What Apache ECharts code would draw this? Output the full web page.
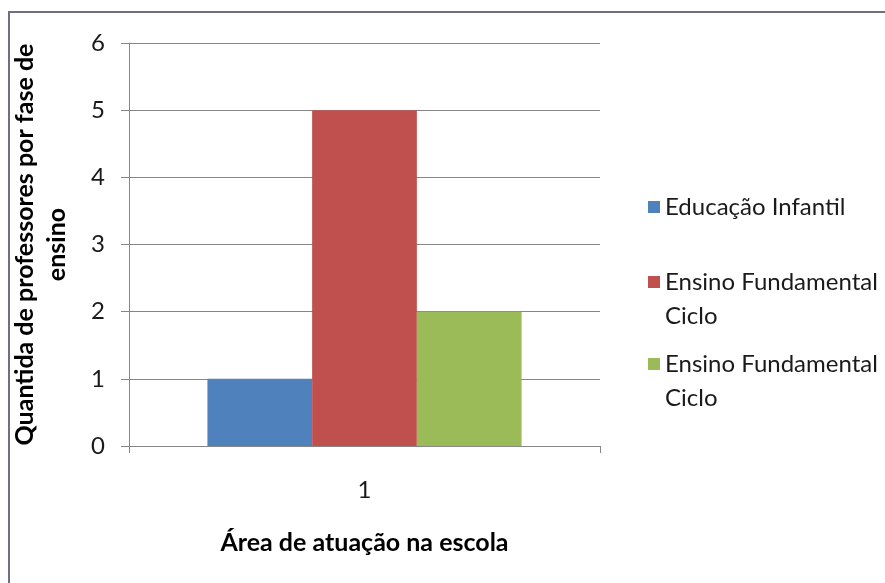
<!DOCTYPE html>
<html>
<head>
<meta charset="utf-8">
<script src="https://cdn.jsdelivr.net/npm/echarts@6/dist/echarts.min.js"></script>
<style>
  html, body { margin: 0; padding: 0; background: #fff; }
  #chart { width: 885px; height: 583px; }
</style>
</head>
<body>
<div id="chart"></div>
<script>
const categories = ["1"];
const seriesNames = [
  "Educação Infantil",
  "Ensino Fundamental I Ciclo",
  "Ensino Fundamental II Ciclo",
];
const educacaoInfantil = [1];
const fundamentalI = [5];
const fundamentalII = [2];
const yTicks = [0, 6, 1]; // min, max, interval

const colors = ["#4f81bd", "#c0504d", "#9bbb59"];
const font = "Lato, 'Open Sans', sans-serif";

const chart = echarts.init(document.getElementById("chart"));

// one legend block per item; a leading empty line keeps the icon on the first text line
const legendTops = [190, 231, 313];
const legends = seriesNames.map((name, i) => ({
  orient: "vertical",
  left: 648,
  top: legendTops[i],
  padding: 0,
  itemWidth: 12,
  itemHeight: 12,
  icon: "rect",
  data: [name],
  selectedMode: false,
  formatter: (n) => (n.indexOf(" Ciclo") > 0 ? "\n" + n.replace(" Ciclo", "\nCiclo") : n),
  textStyle: {
    fontFamily: font,
    fontSize: 24,
    color: "#1a1a1a",
    lineHeight: 34,
  },
}));

chart.setOption({
  animation: false,
  color: colors,
  graphic: [
    {
      type: "rect",
      shape: { x: 9, y: 12, width: 900, height: 600 },
      style: { fill: "none", stroke: "#6f6f80", lineWidth: 2 },
    },
  ],
  legend: legends,
  grid: { left: 129, right: 285, top: 43, bottom: 137, containLabel: false, outerBoundsMode: "none" },
  xAxis: {
    type: "category",
    data: categories,
    name: "Área de atuação na escola",
    nameLocation: "middle",
    nameGap: 84,
    nameTextStyle: { fontFamily: font, fontSize: 25, fontWeight: "bold", color: "#000" },
    axisLine: { lineStyle: { color: "#868686", width: 1 } },
    axisTick: { show: true, length: 7, lineStyle: { color: "#868686" } },
    axisLabel: { fontFamily: font, fontSize: 24, color: "#1a1a1a", margin: 32 },
  },
  yAxis: {
    type: "value",
    min: yTicks[0],
    max: yTicks[1],
    interval: yTicks[2],
    name: "Quantida de professores por fase de\nensino",
    nameLocation: "middle",
    nameGap: 56,
    nameTextStyle: { fontFamily: font, fontSize: 25, fontWeight: "bold", color: "#000", lineHeight: 32 },
    axisLine: { show: true, lineStyle: { color: "#868686", width: 1 } },
    axisTick: { show: true, length: 8, lineStyle: { color: "#868686" } },
    axisLabel: { fontFamily: font, fontSize: 24, color: "#1a1a1a", margin: 24 },
    splitLine: { lineStyle: { color: "#868686", width: 1 } },
  },
  series: [
    { name: seriesNames[0], type: "bar", data: educacaoInfantil, barGap: "0%", barCategoryGap: "33.3%" },
    { name: seriesNames[1], type: "bar", data: fundamentalI, barGap: "0%", barCategoryGap: "33.3%" },
    { name: seriesNames[2], type: "bar", data: fundamentalII, barGap: "0%", barCategoryGap: "33.3%" },
  ],
});
</script>
</body>
</html>
